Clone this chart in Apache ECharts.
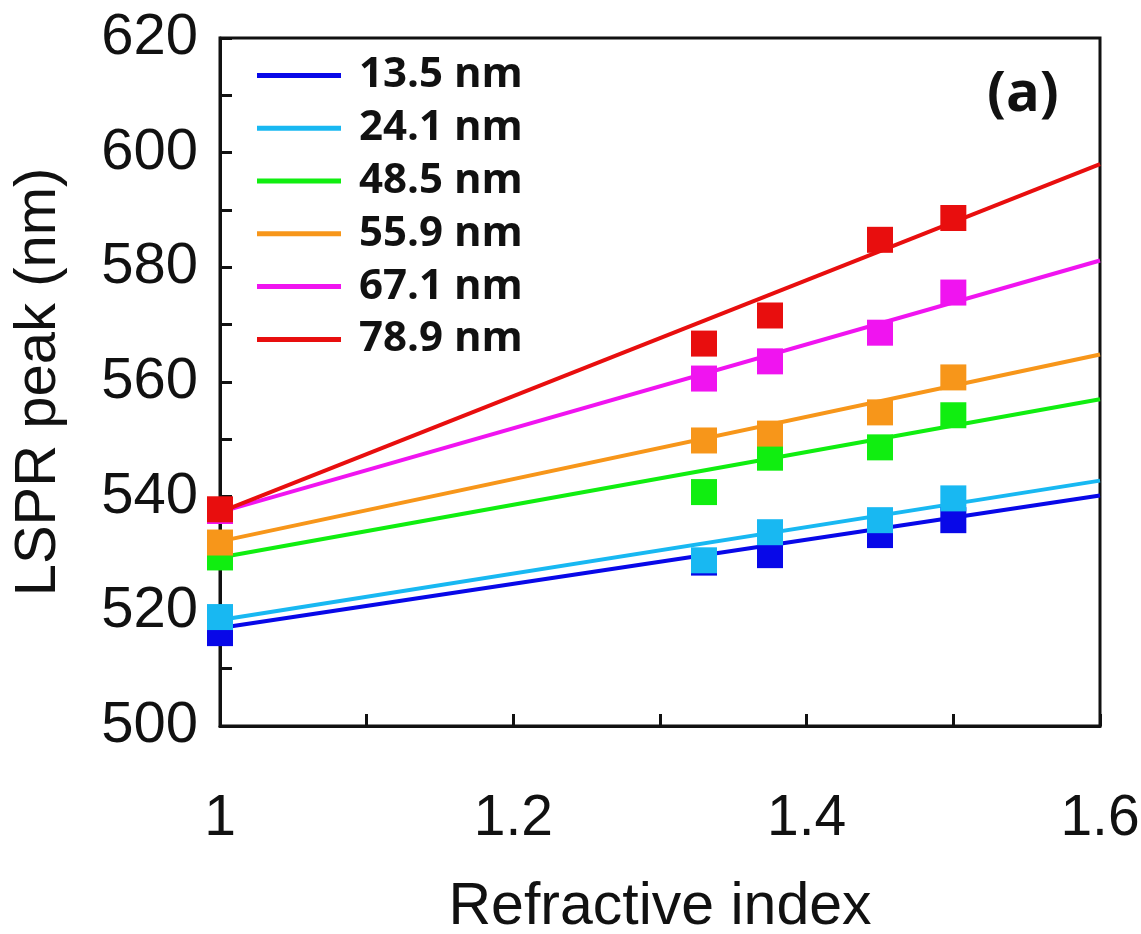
<!DOCTYPE html>
<html>
<head>
<meta charset="utf-8">
<script src="https://cdn.jsdelivr.net/npm/echarts@6/dist/echarts.min.js"></script>
<style>html,body{margin:0;padding:0;background:#fff;}#c{width:1141px;height:934px;}</style>
</head>
<body>
<div id="c"></div>
<script>
const seriesNames = ['13.5 nm', '24.1 nm', '48.5 nm', '55.9 nm', '67.1 nm', '78.9 nm'];
const colors = ['#0808e8', '#18b8f2', '#10ee10', '#f7961a', '#f014f0', '#e80e0e'];
const refractiveIndex = [1.0, 1.33, 1.375, 1.45, 1.5];
const peak135 = [516.2, 528.5, 529.8, 533.3, 535.9];
const peak241 = [519.0, 528.9, 533.8, 535.9, 539.7];
const peak485 = [529.4, 540.8, 546.8, 548.6, 554.2];
const peak559 = [532.0, 549.8, 551.0, 554.7, 560.8];
const peak671 = [537.5, 560.6, 563.6, 568.6, 575.6];
const peak789 = [537.8, 566.7, 571.6, 584.8, 588.6];
const fitX = [1.0, 1.6];
const fit135 = [517.1, 540.2];
const fit241 = [518.5, 542.8];
const fit485 = [529.4, 557.0];
const fit559 = [532.2, 564.8];
const fit671 = [537.3, 581.2];
const fit789 = [537.3, 598.0];
const xTicks = [1.0, 1.2, 1.4, 1.6];
const yTicks = [500, 520, 540, 560, 580, 600, 620];

const peaks = [peak135, peak241, peak485, peak559, peak671, peak789];
const fits = [fit135, fit241, fit485, fit559, fit671, fit789];

const series = [];
fits.forEach((f, i) => {
  series.push({
    name: seriesNames[i], type: 'line', showSymbol: false, symbol: 'none',
    data: fitX.map((x, k) => [x, f[k]]),
    lineStyle: { color: colors[i], width: 4 }, itemStyle: { color: colors[i] },
    z: 2, silent: true
  });
});
peaks.forEach((p, i) => {
  series.push({
    name: seriesNames[i], type: 'scatter', symbol: 'rect', symbolSize: 26,
    data: refractiveIndex.map((x, k) => [x, p[k]]),
    itemStyle: { color: colors[i], opacity: 1 }, z: 3
  });
});

const chart = echarts.init(document.getElementById('c'));
chart.setOption({
  animation: false,
  backgroundColor: '#fff',
  grid: { left: 220, top: 38, right: 41, bottom: 208, show: true, borderColor: '#111', borderWidth: 3,
    containLabel: false, outerBoundsMode: 'none' },
  title: { text: '(a)', left: 982, top: 62, textStyle: { fontFamily: 'Open Sans', fontWeight: 'bold', fontSize: 56, color: '#111' } },
  legend: {
    orient: 'vertical', left: 252, top: 44,
    data: seriesNames.map((n) => ({ name: n, icon: 'rect' })),
    itemWidth: 84, itemHeight: 5, itemGap: 0,
    textStyle: { fontFamily: 'Open Sans', fontWeight: 'bold', fontSize: 42, color: '#111', lineHeight: 52.8, padding: [0, 0, 0, 13] }
  },
  xAxis: {
    type: 'value', min: 1.0, max: 1.6, interval: 0.2,
    name: 'Refractive index', nameLocation: 'middle', nameGap: 152,
    nameTextStyle: { fontFamily: 'Liberation Sans', fontSize: 59, color: '#111' },
    axisLine: { show: true, lineStyle: { color: '#111', width: 3 } },
    axisTick: { show: true, inside: true, length: 12, lineStyle: { color: '#111', width: 3 } },
    minorTick: { show: true, splitNumber: 2, length: 12, lineStyle: { color: '#111', width: 3 } },
    splitLine: { show: false },
    axisLabel: { margin: 65, fontFamily: 'Liberation Sans', fontSize: 57, color: '#111',
      formatter: (v) => { const t = xTicks.find((x) => Math.abs(x - v) < 1e-6); return t === undefined ? '' : String(+t.toFixed(1)); } }
  },
  yAxis: {
    type: 'value', min: 500, max: 620, interval: 20,
    name: 'LSPR peak (nm)', nameLocation: 'middle', nameGap: 152,
    nameTextStyle: { fontFamily: 'Liberation Sans', fontSize: 58, color: '#111' },
    axisLine: { show: true, lineStyle: { color: '#111', width: 3 } },
    axisTick: { show: true, inside: true, length: 12, lineStyle: { color: '#111', width: 3 } },
    minorTick: { show: true, splitNumber: 2, length: 12, lineStyle: { color: '#111', width: 3 } },
    splitLine: { show: false },
    axisLabel: { margin: 22, fontFamily: 'Liberation Sans', fontSize: 58, color: '#111',
      formatter: (v) => (yTicks.indexOf(v) >= 0 ? String(v) : '') }
  },
  series: series
});
</script>
</body>
</html>
